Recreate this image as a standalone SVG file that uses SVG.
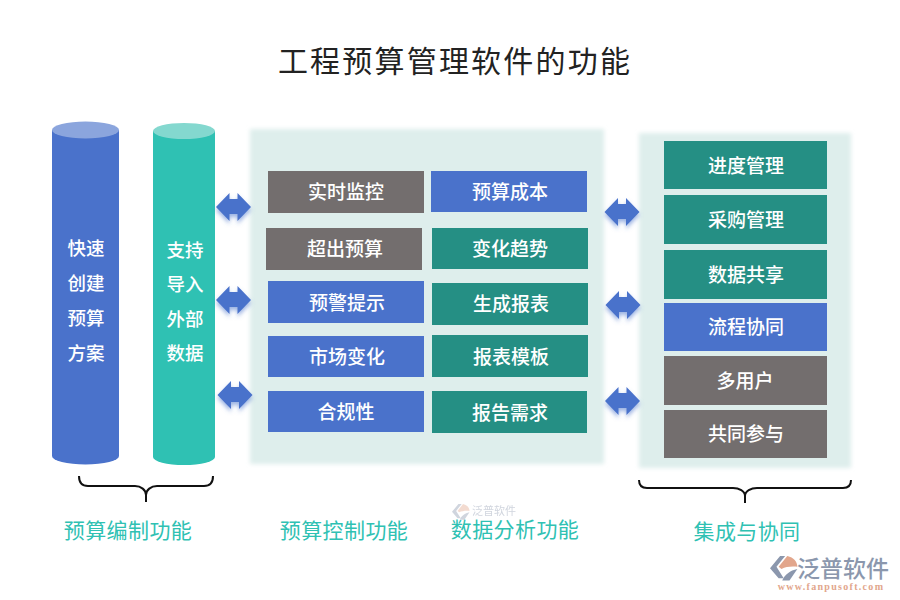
<svg xmlns="http://www.w3.org/2000/svg" width="900" height="600" viewBox="0 0 900 600">
<style>
text{font-family:"Noto Sans CJK SC","Liberation Sans",sans-serif;text-anchor:middle;dominant-baseline:central}
.t{font-size:19px;fill:#fff;font-weight:500}
.c{font-size:18.500px;fill:#fff;font-weight:500}
.l{font-size:21px;fill:#2fc1b3;letter-spacing:.4px}
.g{fill:#736e6e}.b{fill:#4a72cb}.e{fill:#258f84}
.panel{fill:#deeeec;filter:url(#soft)}
.arrow{fill:#4a72cb;filter:url(#sh)}
.brace{fill:none;stroke:#111;stroke-width:2}
</style>
<defs>
<filter id="soft" x="-5%" y="-5%" width="110%" height="110%"><feGaussianBlur stdDeviation="2"/></filter>
<filter id="sh" x="-30%" y="-30%" width="160%" height="170%"><feDropShadow dx="0" dy="3" stdDeviation="2.2" flood-color="#4a72cb" flood-opacity=".55"/></filter>
<path id="da" d="M-17.500 0L-4 -14V-8H4V-14L17.500 0L4 14V7H-4V14Z"/>
<g id="mark">
<path d="M14 0H21L9 15L19 31H12L0 17Z" fill="#8b97ad"/>
<path d="M24 0C33 2 38 8 38 15C30 14 22 15 16 18L12 15Z" fill="#e2a68c"/>
<path d="M38 18L27 34H17C20 26 28 20 38 18Z" fill="#8b97ad"/>
</g>
</defs>
<rect width="900" height="600" fill="#fff"/>
<text id="title" x="455" y="59" style="font-size:30px;letter-spacing:2.200px;fill:#222">工程预算管理软件的功能</text>

<g id="cyl1"><path class="b" d="M52 130V456A33.500 8.500 0 0 0 119 456V130Z"/><ellipse cx="85.500" cy="130" rx="33.500" ry="8.500" fill="#8ba5dd"/>
<text class="c" x="86" y="247">快速</text><text class="c" x="86" y="282">创建</text><text class="c" x="86" y="317">预算</text><text class="c" x="86" y="352">方案</text></g>
<g id="cyl2"><path d="M153 131V457A31 8 0 0 0 215 457V131Z" fill="#2fc1b3"/><ellipse cx="184" cy="131" rx="31" ry="8" fill="#84d8cf"/>
<text class="c" x="185" y="249">支持</text><text class="c" x="185" y="283">导入</text><text class="c" x="185" y="318">外部</text><text class="c" x="185" y="352">数据</text></g>

<rect id="panel1" class="panel" x="250" y="129" width="354" height="335"/>
<rect id="panel2" class="panel" x="639" y="133" width="212" height="335"/>

<g id="n1"><rect class="g" x="268" y="171" width="156" height="42"/><text class="t" x="346" y="190">实时监控</text></g>
<g id="n2"><rect class="g" x="266" y="228" width="156" height="42"/><text class="t" x="345" y="247">超出预算</text></g>
<g id="n3"><rect class="b" x="268" y="281" width="156" height="42"/><text class="t" x="347" y="301">预警提示</text></g>
<g id="n4"><rect class="b" x="268" y="336" width="156" height="41"/><text class="t" x="347" y="355">市场变化</text></g>
<g id="n5"><rect class="b" x="268" y="391" width="156" height="41"/><text class="t" x="346" y="410">合规性</text></g>
<g id="n6"><rect class="b" x="431" y="171" width="156" height="41"/><text class="t" x="510" y="190">预算成本</text></g>
<g id="n7"><rect class="e" x="432" y="228" width="156" height="41"/><text class="t" x="510" y="247">变化趋势</text></g>
<g id="n8"><rect class="e" x="432" y="283" width="156" height="42"/><text class="t" x="511" y="302">生成报表</text></g>
<g id="n9"><rect class="e" x="432" y="335" width="156" height="42"/><text class="t" x="511" y="355">报表模板</text></g>
<g id="n10"><rect class="e" x="432" y="391" width="155" height="42"/><text class="t" x="510" y="411">报告需求</text></g>
<g id="n11"><rect class="e" x="664" y="141" width="163" height="48"/><text class="t" x="746" y="164">进度管理</text></g>
<g id="n12"><rect class="e" x="664" y="195" width="163" height="49"/><text class="t" x="746" y="218">采购管理</text></g>
<g id="n13"><rect class="e" x="664" y="250" width="163" height="49"/><text class="t" x="746" y="273">数据共享</text></g>
<g id="n14"><rect class="b" x="664" y="303" width="163" height="48"/><text class="t" x="746" y="325">流程协同</text></g>
<g id="n15"><rect class="g" x="664" y="356" width="163" height="49"/><text class="t" x="745" y="379">多用户</text></g>
<g id="n16"><rect class="g" x="664" y="410" width="163" height="48"/><text class="t" x="746" y="432">共同参与</text></g>

<g id="connectors">
<use href="#da" class="arrow" x="233.500" y="207"/>
<use href="#da" class="arrow" x="233.500" y="300"/>
<use href="#da" class="arrow" x="235" y="395"/>
<use href="#da" class="arrow" x="622" y="212"/>
<use href="#da" class="arrow" x="623" y="305"/>
<use href="#da" class="arrow" x="622.500" y="401"/>
<path class="brace" d="M79 476C79 483 82 486 88 486H135C141 486 146 490 146 495C146 490 151 486 157 486H204C210 486 213 483 213 476M146 493V502"/>
<path class="brace" d="M639 480C639 485 642 488 647 488H733C739 488 745 491 745 496C745 491 751 488 757 488H843C848 488 851 485 851 480M745 494V503"/>
</g>

<text id="l1" class="l" x="128" y="529">预算编制功能</text>
<text id="l2" class="l" x="344" y="528.500">预算控制功能</text>
<text id="l3" class="l" x="515" y="528">数据分析功能</text>
<text id="l4" class="l" x="747" y="529.500">集成与协同</text>

<g id="wm" opacity=".4"><use href="#mark" transform="translate(452,504) scale(.46)"/><text x="494" y="510" style="font-size:11px;fill:#8b97ad">泛普软件</text></g>
<g id="logo"><use href="#mark" transform="translate(770,556) scale(.72)"/><text x="843" y="567" style="font-size:23px;fill:#8b97ad;font-weight:500">泛普软件</text><text x="831" y="586" style="font-family:'Liberation Serif',serif;font-size:10px;fill:#e2a68c;letter-spacing:1.300px;font-weight:700">www.fanpusoft.com</text></g>
</svg>
